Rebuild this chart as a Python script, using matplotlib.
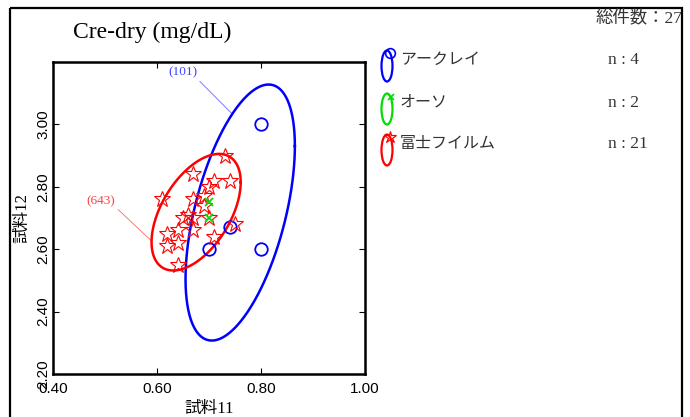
import numpy as np
import matplotlib
matplotlib.use('Agg')
import matplotlib.pyplot as plt
from matplotlib.patches import Ellipse, Rectangle

SERIF = ['Liberation Serif', 'Noto Sans CJK JP']
SANS = ['Liberation Sans', 'Noto Sans CJK JP']
plt.rcParams['font.family'] = SERIF

# ------------------------------------------------------------
# データ（試料11, 試料12）
# ------------------------------------------------------------
arkray_x = [0.80, 0.70, 0.74, 0.80]
arkray_y = [3.00, 2.60, 2.67, 2.60]

ortho_x = [0.70, 0.70]
ortho_y = [2.75, 2.70]

fuji_x = [0.73, 0.67, 0.71, 0.74, 0.70, 0.61, 0.67, 0.69, 0.69, 0.70, 0.65,
          0.66, 0.67, 0.67, 0.62, 0.64, 0.71, 0.75, 0.62, 0.64, 0.64]
fuji_y = [2.90, 2.84, 2.82, 2.82, 2.80, 2.76, 2.76, 2.77, 2.74, 2.70, 2.70,
          2.71, 2.70, 2.66, 2.65, 2.66, 2.64, 2.68, 2.61, 2.62, 2.55]

maker_names = ['アークレイ', 'オーソ', '富士フイルム']
maker_colors = ['#0000ff', '#00dd00', '#ff0000']
maker_markers = ['o', 'x', '*']
ellipse_tags = ['(101)', None, '(643)']

x_ticks = [0.40, 0.60, 0.80, 1.00]
y_ticks = [2.20, 2.40, 2.60, 2.80, 3.00]

groups = [(arkray_x, arkray_y), (ortho_x, ortho_y), (fuji_x, fuji_y)]

# 90% 確率楕円の半径係数
K90 = np.sqrt(-2 * np.log(0.10))


def conf_ellipse(xs, ys, n=400):
    xs = np.asarray(xs)
    ys = np.asarray(ys)
    if len(xs) < 3:
        return None
    cov = np.cov(xs, ys, ddof=1)
    if np.linalg.det(cov) <= 0:
        return None
    L = np.linalg.cholesky(cov)
    t = np.linspace(0, 2 * np.pi, n)
    circ = np.vstack([np.cos(t), np.sin(t)])
    pts = L @ circ * K90
    return xs.mean() + pts[0], ys.mean() + pts[1]


fig = plt.figure(figsize=(6.9, 4.17), dpi=100)
W, H = 690, 417
ax = fig.add_axes([53 / W, 1 - 374 / H, (365 - 53) / W, (374 - 62) / H])

for (xs, ys), col, mk in zip(groups, maker_colors, maker_markers):
    if mk == 'o':
        ax.plot(xs, ys, linestyle='none', marker='o', ms=9, mfc='none',
                mec=col, mew=1.3, zorder=3)
    elif mk == 'x':
        ax.plot(xs, ys, linestyle='none', marker='x', ms=6, color=col,
                mew=1.3, zorder=4)
    else:
        ax.plot(xs, ys, linestyle='none', marker='*', ms=12, mfc='none',
                mec=col, mew=0.8, zorder=3)

ax.set_xlim(0.40, 1.00)
ax.set_ylim(2.20, 3.20)
ax.set_xticks(x_ticks)
ax.set_yticks(y_ticks)
ax.set_xticklabels([f'{v:.2f}' for v in x_ticks], family=SANS, fontsize=11)
ax.set_yticklabels([f'{v:.2f}' for v in y_ticks], family=SANS, fontsize=11,
                   rotation=90, va='center')
ax.tick_params(direction='in', top=True, right=True, length=4, width=0.8)
ax.tick_params(axis='x', pad=6)
ax.tick_params(axis='y', pad=2)
for s in ax.spines.values():
    s.set_linewidth(1.8)
ax.set_xlabel('試料11', fontsize=12, labelpad=3)
ax.set_ylabel('試料12', fontsize=12, labelpad=4)

# 確率楕円と注記（注記線は楕円上の最寄り点へ）
label_pos = {'(101)': (0.649, 3.166), '(643)': (0.492, 2.755)}
label_hit = {'(101)': (0.742, 3.037), '(643)': (0.586, 2.627)}
for (xs, ys), col, tag in zip(groups, maker_colors, ellipse_tags):
    ell = conf_ellipse(xs, ys)
    if ell is None:
        continue
    ex, ey = ell
    ax.plot(ex, ey, color=col, lw=1.8, zorder=2)
    if tag is None:
        continue
    tx, ty = label_pos[tag]
    disp = ax.transData.transform(np.column_stack([ex, ey]))
    target = ax.transData.transform(label_hit[tag])
    i = np.argmin(((disp - target) ** 2).sum(axis=1))
    ax.annotate(tag, xy=(ex[i], ey[i]), xytext=(tx, ty), color=col,
                alpha=0.75, fontsize=9.5, ha='center', va='center',
                arrowprops=dict(arrowstyle='-', color=col, lw=0.6, alpha=0.6,
                                relpos=(1, 0), shrinkA=0, shrinkB=0))

# ピクセル座標の重ね描き用
ov = fig.add_axes([0, 0, 1, 1])
ov.set_xlim(0, W)
ov.set_ylim(H, 0)
ov.axis('off')

ov.add_patch(Rectangle((10, 8), 672, 430, fill=False, lw=1.6,
                       edgecolor='black', clip_on=False))
ov.text(73, 32, 'Cre-dry (mg/dL)', fontsize=17, va='center', ha='left')

total = sum(len(xs) for xs, _ in groups)
ov.text(682, 18, f'総件数：{total}', fontsize=12.5, va='center', ha='right',
        color='#333333')

legend_y = [66, 109, 150]
for (xs, ys), name, col, mk, ly in zip(groups, maker_names, maker_colors,
                                        maker_markers, legend_y):
    ov.add_patch(Ellipse((387, ly), 11, 31, fill=False, lw=1.6, edgecolor=col))
    if mk == 'o':
        ov.plot(390, ly - 13, marker='o', ms=7, mfc='none', mec=col, mew=1.2)
    elif mk == 'x':
        ov.plot(391, ly - 12, marker='x', ms=5, color=col, mew=1.2)
    else:
        ov.plot(390, ly - 13, marker='*', ms=9, mfc='none', mec=col, mew=0.9)
    ov.text(400, ly - 6, name, fontsize=11.5, va='center', ha='left',
            color='#333333')
    ov.text(608, ly - 6, f'n : {len(xs)}', fontsize=12.5, va='center',
            ha='left', color='#333333')

fig.savefig('out.png', dpi=100)
